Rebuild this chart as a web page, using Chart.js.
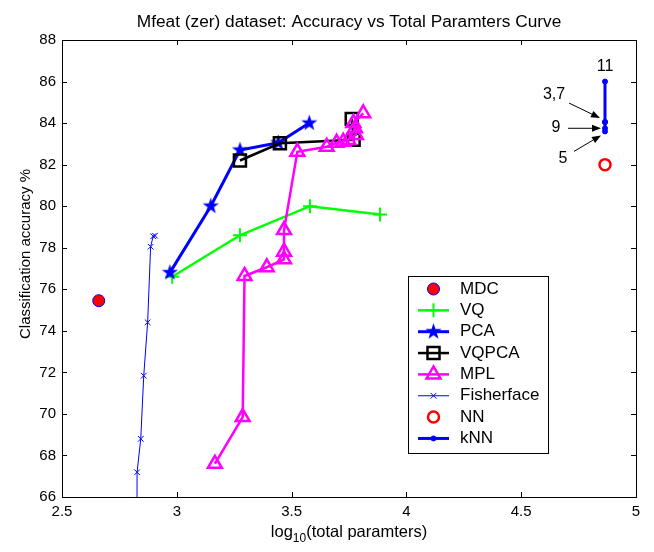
<!DOCTYPE html>
<html>
<head>
<meta charset="utf-8">
<script src="https://cdn.jsdelivr.net/npm/chart.js@4.4.1/dist/chart.umd.min.js"></script>
<style>
  html, body { margin: 0; padding: 0; background: #fff; }
</style>
</head>
<body>
<canvas id="myChart" width="654" height="552"></canvas>
<script>
// log10(total parameters) vs classification accuracy (%)
const mdcParams = [2.66];
const mdcAcc = [75.45];

const vqParams = [2.98, 3.275, 3.58, 3.885];
const vqAcc = [76.6, 78.6, 80.0, 79.6];

const pcaParams = [2.97, 3.148, 3.275, 3.442, 3.577];
const pcaAcc = [76.8, 80.0, 82.7, 83.05, 84.0];

const vqpcaParams = [3.275, 3.449, 3.77, 3.762];
const vqpcaAcc = [82.2, 83.03, 83.2, 84.2];

const mplParams = [3.166, 3.287, 3.295, 3.392, 3.467, 3.467, 3.467, 3.525, 3.653, 3.696, 3.725, 3.747, 3.78, 3.776, 3.769, 3.812];
const mplAcc = [67.6, 69.85, 76.64, 77.06, 77.44, 77.81, 78.85, 82.62, 82.86, 83.05, 83.1, 83.19, 83.43, 83.75, 84.0, 84.47];

const fishParams = [2.826, 2.827, 2.843, 2.856, 2.873, 2.886, 2.897, 2.905];
const fishAcc = [63.0, 67.19, 68.8, 71.84, 74.41, 78.05, 78.55, 78.58];

const nnParams = [4.865];
const nnAcc = [82.0];

const kValues = ['3', '5', '7', '9', '11'];
const knnParams = [4.865, 4.865, 4.865, 4.865, 4.865];
const knnAcc = [84.05, 83.6, 84.05, 83.75, 86.0];

const xTicks = [2.5, 3, 3.5, 4, 4.5, 5];
const xTickLabels = ['2.5', '3', '3.5', '4', '4.5', '5'];
const yTicks = [66, 68, 70, 72, 74, 76, 78, 80, 82, 84, 86, 88];
const yTickLabels = ['66', '68', '70', '72', '74', '76', '78', '80', '82', '84', '86', '88'];

const FONT = "'Liberation Sans', Arial, sans-serif";
const BLUE = '#0000ff', GREEN = '#00ff00', MAGENTA = '#ff00ff', RED = '#ff0000';

// filled five point star used as the PCA marker
function makeStar(size, color) {
  const c = document.createElement('canvas');
  c.width = size; c.height = size;
  const g = c.getContext('2d');
  const r1 = size / 2 - 1, r2 = r1 * 0.4;
  g.beginPath();
  for (let i = 0; i < 10; i++) {
    const r = i % 2 ? r2 : r1;
    const a = -Math.PI / 2 + i * Math.PI / 5;
    g.lineTo(size / 2 + r * Math.cos(a), size / 2 + r * Math.sin(a));
  }
  g.closePath();
  g.fillStyle = color;
  g.fill();
  return c;
}
const starImg = makeStar(19, BLUE);

function pts(xs, ys) {
  return xs.map((v, i) => ({x: v, y: ys[i]}));
}

const datasets = [
  {label: 'MDC', data: pts(mdcParams, mdcAcc), showLine: false,
   pointStyle: 'circle', pointRadius: 6, pointBackgroundColor: RED, pointBorderColor: BLUE, pointBorderWidth: 1},
  {label: 'VQ', data: pts(vqParams, vqAcc), showLine: true, borderColor: GREEN, borderWidth: 2.5,
   pointStyle: 'cross', pointRadius: 7, pointBorderColor: GREEN, pointBackgroundColor: GREEN, pointBorderWidth: 2},
  {label: 'PCA', data: pts(pcaParams, pcaAcc), showLine: true, borderColor: BLUE, borderWidth: 3,
   pointStyle: starImg, pointRadius: 9, pointBorderColor: BLUE, pointBackgroundColor: BLUE},
  {label: 'VQPCA', data: pts(vqpcaParams, vqpcaAcc), showLine: true, borderColor: '#000', borderWidth: 2.5,
   pointStyle: 'rect', pointRadius: 8.5, pointBorderColor: '#000', pointBackgroundColor: 'rgba(0,0,0,0)', pointBorderWidth: 2.5},
  {label: 'MPL', data: pts(mplParams, mplAcc), showLine: true, borderColor: MAGENTA, borderWidth: 2.5,
   pointStyle: 'triangle', pointRadius: 8, pointBorderColor: MAGENTA, pointBackgroundColor: 'rgba(0,0,0,0)', pointBorderWidth: 2.5},
  {label: 'Fisherface', data: pts(fishParams, fishAcc), showLine: true, borderColor: BLUE, borderWidth: 1,
   pointStyle: 'crossRot', pointRadius: 4, pointBorderColor: BLUE, pointBackgroundColor: BLUE, pointBorderWidth: 1},
  {label: 'NN', data: pts(nnParams, nnAcc), showLine: false,
   pointStyle: 'circle', pointRadius: 5.5, pointBorderColor: RED, pointBackgroundColor: 'rgba(0,0,0,0)', pointBorderWidth: 2.5},
  {label: 'kNN', data: pts(knnParams, knnAcc), showLine: true, borderColor: BLUE, borderWidth: 3,
   pointStyle: 'circle', pointRadius: 2.5, pointBorderColor: BLUE, pointBackgroundColor: BLUE, pointBorderWidth: 1}
];
// later series sit on top, like the original plot
datasets.forEach((d, i) => { d.order = datasets.length - i; d.tension = 0; });

function arrow(ctx, x1, y1, x2, y2) {
  const a = Math.atan2(y2 - y1, x2 - x1), L = 9, W = 3.5;
  ctx.beginPath();
  ctx.moveTo(x1, y1);
  ctx.lineTo(x2 - L * Math.cos(a), y2 - L * Math.sin(a));
  ctx.stroke();
  ctx.beginPath();
  ctx.moveTo(x2, y2);
  ctx.lineTo(x2 - L * Math.cos(a) + W * Math.sin(a), y2 - L * Math.sin(a) - W * Math.cos(a));
  ctx.lineTo(x2 - L * Math.cos(a) - W * Math.sin(a), y2 - L * Math.sin(a) + W * Math.cos(a));
  ctx.closePath();
  ctx.fill();
}

const decorations = {
  id: 'decorations',
  afterDraw(chart) {
    const {ctx, chartArea: a, scales: {x, y}} = chart;
    ctx.save();
    ctx.strokeStyle = '#000';
    ctx.fillStyle = '#000';
    ctx.lineWidth = 1;

    // axes box with inward ticks on every side
    ctx.strokeRect(a.left + 0.5, a.top + 0.5, a.right - a.left, a.bottom - a.top);
    ctx.beginPath();
    xTicks.forEach(v => {
      const px = Math.round(x.getPixelForValue(v)) + 0.5;
      ctx.moveTo(px, a.bottom); ctx.lineTo(px, a.bottom - 5);
      ctx.moveTo(px, a.top); ctx.lineTo(px, a.top + 5);
    });
    yTicks.forEach(v => {
      const py = Math.round(y.getPixelForValue(v)) + 0.5;
      ctx.moveTo(a.left, py); ctx.lineTo(a.left + 5, py);
      ctx.moveTo(a.right, py); ctx.lineTo(a.right - 5, py);
    });
    ctx.stroke();

    // title
    const cx = (a.left + a.right) / 2;
    ctx.textAlign = 'center';
    ctx.textBaseline = 'alphabetic';
    ctx.font = '17.3px ' + FONT;
    ctx.fillText('Mfeat (zer) dataset: Accuracy vs Total Paramters Curve', cx, 26.5);

    // x axis label with subscript
    const mainFont = '16.5px ' + FONT, subFont = '12px ' + FONT;
    ctx.font = mainFont;
    const w1 = ctx.measureText('log').width;
    const w3 = ctx.measureText('(total paramters)').width;
    ctx.font = subFont;
    const w2 = ctx.measureText('10').width;
    let sx = cx - (w1 + w2 + w3) / 2;
    ctx.textAlign = 'left';
    ctx.font = mainFont;
    ctx.fillText('log', sx, 537);
    ctx.font = subFont;
    ctx.fillText('10', sx + w1, 542);
    ctx.font = mainFont;
    ctx.fillText('(total paramters)', sx + w1 + w2, 537);

    // y axis label
    ctx.save();
    ctx.translate(29.5, 254);
    ctx.rotate(-Math.PI / 2);
    ctx.textAlign = 'center';
    ctx.font = '15px ' + FONT;
    ctx.fillText('Classification accuracy %', 0, 0);
    ctx.restore();

    // k annotations next to the kNN points
    const kp = i => ({px: x.getPixelForValue(knnParams[i]), py: y.getPixelForValue(knnAcc[i])});
    ctx.font = '16px ' + FONT;
    ctx.textAlign = 'center';
    ctx.textBaseline = 'middle';
    const top = kp(4);
    ctx.fillText(kValues[4], top.px, top.py - 15);
    const p37 = kp(0), p9 = kp(3), p5 = kp(1);
    ctx.fillText(kValues[0] + ',' + kValues[2], p37.px - 51, p37.py - 27);
    arrow(ctx, p37.px - 36, p37.py - 19, p37.px - 5, p37.py - 4);
    ctx.fillText(kValues[3], p9.px - 49, p9.py - 1);
    arrow(ctx, p9.px - 37, p9.py, p9.px - 4, p9.py);
    ctx.fillText(kValues[1], p5.px - 42, p5.py + 27);
    arrow(ctx, p5.px - 31, p5.py + 20, p5.px - 4, p5.py + 4);

    // legend box
    const L = {left: 408, top: 276, right: 548, bottom: 453, y0: 289, step: 21.35};
    ctx.fillStyle = '#fff';
    ctx.fillRect(L.left, L.top, L.right - L.left, L.bottom - L.top);
    ctx.strokeStyle = '#000';
    ctx.lineWidth = 1;
    ctx.strokeRect(L.left + 0.5, L.top + 0.5, L.right - L.left, L.bottom - L.top);
    chart.data.datasets.forEach((d, i) => {
      const ly = L.y0 + i * L.step;
      if (d.showLine) {
        ctx.strokeStyle = d.borderColor;
        ctx.lineWidth = d.borderWidth;
        ctx.beginPath();
        ctx.moveTo(418, ly); ctx.lineTo(449, ly);
        ctx.stroke();
      }
      ctx.strokeStyle = d.pointBorderColor;
      ctx.fillStyle = d.pointBackgroundColor;
      ctx.lineWidth = d.pointBorderWidth || 1;
      Chart.helpers.drawPoint(ctx, {pointStyle: d.pointStyle, radius: d.pointRadius, rotation: 0,
        borderWidth: d.pointBorderWidth || 0}, 433.5, ly);
      ctx.fillStyle = '#000';
      ctx.font = '17px ' + FONT;
      ctx.textAlign = 'left';
      ctx.textBaseline = 'middle';
      ctx.fillText(d.label, 460, ly);
    });
    ctx.restore();
  }
};

const tickFont = {family: FONT, size: 15};
const ctx = document.getElementById('myChart');
const myChart = new Chart(ctx, {
  type: 'scatter',
  data: {datasets: datasets},
  options: {
    responsive: false,
    animation: false,
    layout: {padding: {left: 0, right: 18, top: 40, bottom: 0}},
    plugins: {legend: {display: false}, tooltip: {enabled: false}},
    scales: {
      x: {
        type: 'linear', min: 2.5, max: 5,
        afterBuildTicks: s => { s.ticks = xTicks.map(v => ({value: v})); },
        afterFit: s => { s.height = 55; },
        ticks: {callback: (v, i) => xTickLabels[i], color: '#000', font: tickFont, padding: 6, maxRotation: 0, autoSkip: false},
        grid: {display: false, drawTicks: false},
        border: {display: false}
      },
      y: {
        type: 'linear', min: 66, max: 88,
        afterBuildTicks: s => { s.ticks = yTicks.map(v => ({value: v})); },
        afterFit: s => { s.width = 62; },
        ticks: {callback: (v, i) => yTickLabels[i], color: '#000', font: tickFont, padding: 6, autoSkip: false},
        grid: {display: false, drawTicks: false},
        border: {display: false}
      }
    }
  },
  plugins: [decorations]
});
</script>
</body>
</html>
